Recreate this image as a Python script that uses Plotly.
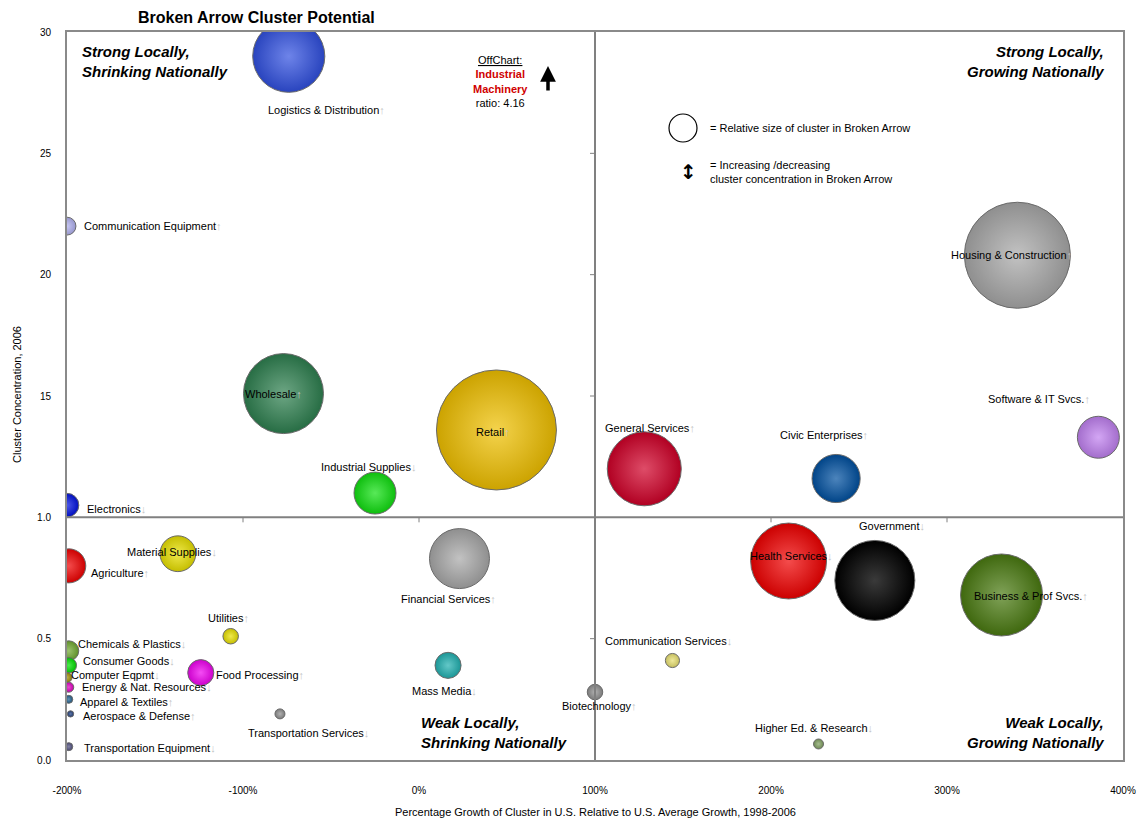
import plotly.graph_objects as go

# ---- data -------------------------------------------------------------
clusters = [
    "Logistics & Distribution", "Communication Equipment", "Wholesale", "Retail",
    "Industrial Supplies", "Electronics", "Material Supplies", "Agriculture",
    "Utilities", "Chemicals & Plastics", "Consumer Goods", "Computer Eqpmt",
    "Food Processing", "Energy & Nat. Resources", "Apparel & Textiles",
    "Aerospace & Defense", "Transportation Equipment", "Transportation Services",
    "Financial Services", "Mass Media", "Biotechnology", "Communication Services",
    "Higher Ed. & Research", "General Services", "Civic Enterprises",
    "Housing & Construction", "Software & IT Svcs.", "Health Services",
    "Government", "Business & Prof Svcs.",
]
# growth of cluster in U.S. relative to U.S. average, 1998-2006 (%)
growth = [-74, -200, -77, 44, -25, -200, -137, -199, -107, -199, -199, -200,
          -124, -199, -199, -198, -199, -79, 23, 16.5, 100, 144, 227, 128, 237,
          340, 386, 210, 259, 331]
# cluster concentration, 2006
concentration = [2.90, 2.20, 1.51, 1.36, 1.10, 1.05, 0.85, 0.80, 0.51, 0.45,
                 0.39, 0.34, 0.36, 0.30, 0.25, 0.19, 0.055, 0.19, 0.83, 0.39,
                 0.28, 0.41, 0.066, 1.20, 1.16, 2.08, 1.33, 0.82, 0.74, 0.68]
# relative size of cluster in Broken Arrow
cluster_size = [13.0, 0.8, 16.0, 36.0, 4.4, 1.4, 3.2, 2.9, 0.6, 1.0, 0.6, 0.25,
                1.7, 0.25, 0.16, 0.1, 0.16, 0.25, 9.0, 1.7, 0.6, 0.5, 0.25, 13.7,
                5.8, 28.1, 4.4, 14.4, 16.0, 16.8]
# change in local concentration
trend = ["up", "up", "up", "up", "down", "down", "down", "up", "up", "down",
         "down", "down", "up", "down", "up", "up", "down", "down", "up", "down",
         "up", "down", "down", "up", "up", "up", "up", "down", "down", "up"]

x_ticks = [-200, -100, 0, 100, 200, 300, 400]
x_tick_text = ["-200%", "-100%", "0%", "100%", "200%", "300%", "400%"]
y_ticks = [0.0, 0.5, 1.0, 1.5, 2.0, 2.5, 3.0]
y_tick_text = ["0.0", "0.5", "1.0", "15", "20", "25", "30"]

# ---- styling ----------------------------------------------------------
bubble_colors = [
    "#3050e0", "#b0b0f0", "#2e8050", "#f0c000", "#10e010", "#0010e0", "#e8e000",
    "#f00000", "#e8e000", "#70a830", "#00e000", "#a09000", "#f000f0", "#e000c0",
    "#206090", "#204080", "#505080", "#909090", "#a8a8a8", "#20b0b0", "#909090",
    "#e8e070", "#80a060", "#d00028", "#0050a0", "#a8a8a8", "#c080f0", "#f00000",
    "#000000", "#4a7a10",
]
# label offsets from bubble centre in pixels (right, down)
label_offsets = [
    (-23, 54), (15, 0), (-40, 0), (-22, 2), (-56, -26), (18, 4), (-53, -2),
    (20, 7), (-25, -18), (7, -7), (12, -4), (2, -2), (13, 2), (11, 0), (9, 3),
    (10, 2), (13, 1), (-34, 19), (-60, 40), (-38, 26), (-35, 14), (-69, -20),
    (-66, -16), (-41, -41), (-58, -44), (-68, 0), (-112, -38), (-41, -5),
    (-18, -54), (-30, 1),
]

FONT = "Liberation Sans Narrow, Arial Narrow, Liberation Sans, Arial, sans-serif"
W, H = 1141, 824
PL, PR, PT, PB = 67, 1123, 32, 760


def mix(hex_color, target, t):
    c = [int(hex_color[i:i + 2], 16) for i in (1, 3, 5)]
    return "#%02x%02x%02x" % tuple(round(a + (target - a) * t) for a in c)


edge_colors = [mix(c, 0, 0.15) for c in bubble_colors]
centre_colors = [mix(c, 255, 0.3) for c in bubble_colors]
centre_colors[bubble_colors.index("#000000")] = "#3a3a3a"


def px(xp):
    return (xp - PL) / (PR - PL)


def py(yp):
    return (PB - yp) / (PB - PT)


fig = go.Figure()
fig.add_trace(go.Scatter(
    x=growth, y=concentration, mode="markers",
    marker=dict(
        size=cluster_size, sizemode="area", sizeref=1 / 200,
        color=edge_colors,
        gradient=dict(type="radial", color=centre_colors),
        line=dict(color="#6a6a6a", width=1),
        opacity=1,
    ),
    text=clusters, hoverinfo="text", showlegend=False,
))

annotations = []
for name, xv, yv, tr, (dx, dy) in zip(clusters, growth, concentration, trend, label_offsets):
    arrow = "↑" if tr == "up" else "↓"
    annotations.append(dict(
        x=xv, y=yv, xref="x", yref="y", xanchor="left", yanchor="middle",
        xshift=dx, yshift=-dy, showarrow=False,
        text=f"{name}<span style='color:#c4c4c4'>{arrow}</span>",
        font=dict(family=FONT, size=11, color="#000000"),
    ))

quad_font = dict(family=FONT, size=15, color="#000000")
annotations += [
    dict(x=px(80), y=py(62), xref="paper", yref="paper", xanchor="left", yanchor="middle",
         align="left", showarrow=False, font=quad_font,
         text="<b><i>Strong Locally,<br>Shrinking Nationally</i></b>"),
    dict(x=px(1106), y=py(62), xref="paper", yref="paper", xanchor="right", yanchor="middle",
         align="right", showarrow=False, font=quad_font,
         text="<b><i>Strong Locally,<br>Growing Nationally</i></b>"),
    dict(x=px(419), y=py(732), xref="paper", yref="paper", xanchor="left", yanchor="middle",
         align="left", showarrow=False, font=quad_font,
         text="<b><i>Weak Locally,<br>Shrinking Nationally</i></b>"),
    dict(x=px(1106), y=py(732), xref="paper", yref="paper", xanchor="right", yanchor="middle",
         align="right", showarrow=False, font=quad_font,
         text="<b><i>Weak Locally,<br>Growing Nationally</i></b>"),
    # off-chart note
    dict(x=px(500), y=py(82), xref="paper", yref="paper", xanchor="center", yanchor="middle",
         align="center", showarrow=False, font=dict(family=FONT, size=11, color="#000000"),
         text="<u>OffChart:</u><br><b><span style='color:#d00000'>Industrial<br>Machinery</span></b><br>ratio: 4.16"),
    dict(x=px(548), y=py(66), ax=0, ay=26, xref="paper", yref="paper",
         axref="pixel", ayref="pixel", showarrow=True, arrowhead=2, arrowsize=0.9,
         arrowwidth=3.5, arrowcolor="#000000", text=""),
    # key
    dict(x=px(708), y=py(128), xref="paper", yref="paper", xanchor="left", yanchor="middle",
         showarrow=False, font=dict(family=FONT, size=11, color="#000000"),
         text="= Relative size of cluster in Broken Arrow"),
    dict(x=px(708), y=py(172), xref="paper", yref="paper", xanchor="left", yanchor="middle",
         align="left", showarrow=False, font=dict(family=FONT, size=11, color="#000000"),
         text="= Increasing /decreasing<br>cluster concentration in Broken Arrow"),
    dict(x=px(688), y=py(172), xref="paper", yref="paper", xanchor="center", yanchor="middle",
         showarrow=False, font=dict(family="DejaVu Sans", size=20, color="#000000"),
         text="<b>↕</b>"),
    # axis titles
    dict(x=px(595), y=py(812), xref="paper", yref="paper", xanchor="center", yanchor="middle",
         showarrow=False, font=dict(family=FONT, size=11, color="#000000"),
         text="Percentage Growth of Cluster in U.S. Relative to U.S. Average Growth, 1998-2006"),
    dict(x=px(17), y=py(395), xref="paper", yref="paper", xanchor="center", yanchor="middle",
         textangle=-90, showarrow=False, font=dict(family=FONT, size=11, color="#000000"),
         text="Cluster Concentration, 2006"),
]

shapes = [
    dict(type="line", xref="x", yref="paper", x0=100, x1=100, y0=0, y1=1,
         line=dict(color="#808080", width=2)),
    dict(type="line", xref="paper", yref="y", x0=0, x1=1, y0=1.0, y1=1.0,
         line=dict(color="#808080", width=2)),
    # key circle
    dict(type="circle", xref="paper", yref="paper",
         x0=px(683 - 14), x1=px(683 + 14), y0=py(128 + 14), y1=py(128 - 14),
         line=dict(color="#000000", width=1.2), fillcolor="rgba(0,0,0,0)"),
]
# small tick marks on the crossing lines
for tv in x_ticks:
    if tv in (-200, 100, 400):
        continue
    shapes.append(dict(type="line", xref="x", yref="y", x0=tv, x1=tv,
                       ysizemode="pixel", yanchor=1.0, y0=0, y1=-5,
                       line=dict(color="#808080", width=1)))
for tv in y_ticks:
    if tv in (0.0, 1.0, 3.0):
        continue
    shapes.append(dict(type="line", xref="x", yref="y", y0=tv, y1=tv,
                       xsizemode="pixel", xanchor=100, x0=0, x1=-5,
                       line=dict(color="#808080", width=1)))

fig.update_layout(
    width=W, height=H,
    margin=dict(l=PL, r=W - PR, t=PT, b=H - PB, autoexpand=False),
    paper_bgcolor="#ffffff", plot_bgcolor="#ffffff",
    font=dict(family=FONT, size=10, color="#000000"),
    title=dict(text="<b>Broken Arrow Cluster Potential</b>", x=138 / W, xanchor="left",
               y=1 - 17 / H, yanchor="middle", font=dict(family=FONT, size=16, color="#000000")),
    xaxis=dict(range=[-200, 400], tickvals=x_ticks, ticktext=x_tick_text,
               showgrid=False, zeroline=False, showline=True, mirror=True,
               linecolor="#8a8a8a", linewidth=2, ticks="", ticklabelstandoff=20,
               tickfont=dict(family=FONT, size=10, color="#000000")),
    yaxis=dict(range=[0, 3.0], tickvals=y_ticks, ticktext=y_tick_text,
               showgrid=False, zeroline=False, showline=True, mirror=True,
               linecolor="#8a8a8a", linewidth=2, ticks="", ticklabelstandoff=12,
               tickfont=dict(family=FONT, size=10, color="#000000")),
    annotations=annotations, shapes=shapes,
)

fig.write_html("out.html")
